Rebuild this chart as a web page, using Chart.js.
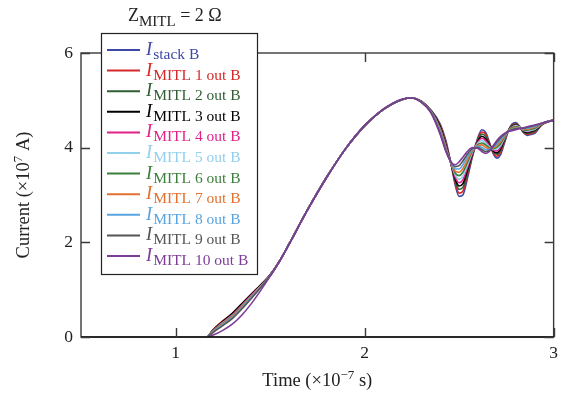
<!DOCTYPE html>
<html>
<head>
<meta charset="utf-8">
<script src="https://cdn.jsdelivr.net/npm/chart.js@4.4.1/dist/chart.umd.min.js"></script>
<style>
html,body{margin:0;padding:0;background:#fff;}
#wrap{position:relative;width:564px;height:393px;}
</style>
</head>
<body>
<div id="wrap"><canvas id="c" width="564" height="393"></canvas></div>
<script>
// Time (x10^-7 s)
const T = [1.17,1.20,1.25,1.30,1.35,1.40,1.45,1.50,1.55,1.60,1.70,1.80,1.90,2.00,2.10,2.20,2.25,2.30,2.35,2.40,
  2.43,2.46,2.48,2.50,2.52,2.54,2.57,2.60,2.62,2.64,2.66,2.68,2.70,2.72,2.74,2.76,2.78,2.80,2.82,2.84,
  2.86,2.88,2.90,2.92,2.94,2.97,3.00];

// Currents (x10^7 A)
const I_STACK = [0,0.15,0.33,0.47,0.68,0.89,1.09,1.31,1.60,1.96,2.70,3.38,3.98,4.46,4.81,5.02,5.05,4.98,4.80,4.50,
  4.15,3.60,3.20,2.97,3.00,3.28,3.80,4.22,4.38,4.33,4.12,3.88,3.78,3.86,4.10,4.35,4.50,4.53,4.45,4.32,
  4.26,4.28,4.30,4.40,4.50,4.56,4.58];
const I_M1 = [0,0.16,0.34,0.49,0.69,0.90,1.10,1.31,1.60,1.96,2.70,3.38,3.98,4.46,4.81,5.02,5.05,4.98,4.79,4.48,
  4.11,3.61,3.25,3.04,3.08,3.35,3.82,4.19,4.33,4.29,4.10,3.90,3.82,3.91,4.13,4.35,4.48,4.51,4.44,4.33,
  4.28,4.30,4.33,4.41,4.49,4.55,4.58];
const I_M2 = [0,0.14,0.32,0.48,0.68,0.89,1.09,1.31,1.60,1.96,2.70,3.38,3.98,4.46,4.81,5.02,5.05,4.98,4.79,4.46,
  4.08,3.62,3.29,3.12,3.16,3.40,3.84,4.17,4.29,4.24,4.08,3.92,3.86,3.95,4.16,4.36,4.47,4.50,4.44,4.34,
  4.30,4.32,4.35,4.42,4.49,4.55,4.58];
const I_M3 = [0,0.15,0.33,0.50,0.70,0.90,1.10,1.31,1.60,1.96,2.70,3.38,3.98,4.46,4.81,5.02,5.05,4.97,4.78,4.44,
  4.05,3.62,3.33,3.19,3.24,3.47,3.86,4.14,4.24,4.19,4.06,3.93,3.89,3.98,4.18,4.36,4.45,4.48,4.43,4.35,
  4.32,4.34,4.37,4.43,4.50,4.55,4.58];
const I_M4 = [0,0.14,0.31,0.47,0.67,0.88,1.08,1.30,1.60,1.96,2.70,3.38,3.98,4.46,4.81,5.02,5.05,4.97,4.78,4.41,
  4.03,3.63,3.37,3.26,3.32,3.53,3.88,4.12,4.20,4.15,4.04,3.95,3.93,4.02,4.20,4.36,4.44,4.47,4.43,4.36,
  4.34,4.36,4.39,4.44,4.50,4.55,4.58];
const I_M5 = [0,0.13,0.30,0.45,0.65,0.86,1.07,1.30,1.60,1.96,2.70,3.38,3.98,4.46,4.81,5.02,5.05,4.97,4.77,4.39,
  4.00,3.64,3.42,3.33,3.40,3.59,3.90,4.10,4.15,4.10,4.02,3.96,3.97,4.05,4.20,4.35,4.43,4.46,4.43,4.37,
  4.35,4.37,4.39,4.45,4.51,4.55,4.57];
const I_M6 = [0,0.13,0.29,0.44,0.64,0.85,1.06,1.30,1.60,1.96,2.70,3.38,3.98,4.46,4.81,5.02,5.05,4.97,4.77,4.37,
  3.99,3.65,3.46,3.41,3.48,3.65,3.92,4.07,4.10,4.06,4.00,3.98,4.01,4.09,4.22,4.35,4.42,4.44,4.42,4.38,
  4.37,4.39,4.41,4.46,4.51,4.55,4.57];
const I_M7 = [0,0.12,0.28,0.43,0.63,0.84,1.06,1.29,1.60,1.96,2.70,3.38,3.98,4.46,4.81,5.02,5.05,4.96,4.76,4.35,
  3.97,3.66,3.50,3.48,3.56,3.71,3.94,4.05,4.06,4.01,3.98,3.99,4.05,4.13,4.24,4.35,4.40,4.43,4.42,4.39,
  4.39,4.41,4.43,4.47,4.51,4.55,4.57];
const I_M8 = [0,0.11,0.26,0.41,0.61,0.83,1.05,1.29,1.60,1.96,2.70,3.38,3.98,4.46,4.81,5.02,5.05,4.96,4.76,4.33,
  3.95,3.67,3.55,3.55,3.64,3.78,3.96,4.03,4.01,3.96,3.96,4.01,4.08,4.17,4.26,4.35,4.39,4.41,4.41,4.40,
  4.41,4.43,4.45,4.48,4.52,4.55,4.57];
const I_M9 = [0,0.10,0.24,0.39,0.59,0.81,1.04,1.29,1.60,1.96,2.70,3.38,3.98,4.46,4.81,5.02,5.05,4.96,4.75,4.30,
  3.94,3.68,3.60,3.62,3.72,3.84,3.98,4.00,3.96,3.92,3.94,4.02,4.12,4.21,4.28,4.34,4.38,4.40,4.41,4.41,
  4.43,4.45,4.47,4.49,4.52,4.55,4.57];
const I_M10 = [0,0.04,0.14,0.27,0.46,0.70,0.98,1.28,1.60,1.95,2.69,3.37,3.98,4.47,4.82,5.03,5.05,4.96,4.74,4.28,
  3.92,3.68,3.64,3.70,3.80,3.90,4.00,3.98,3.92,3.88,3.92,4.04,4.15,4.24,4.30,4.34,4.36,4.38,4.40,4.42,
  4.44,4.46,4.48,4.50,4.52,4.55,4.57];

const SERIES = [I_STACK,I_M1,I_M2,I_M3,I_M4,I_M5,I_M6,I_M7,I_M8,I_M9,I_M10];
const SUBS = ['stack B','MITL 1 out B','MITL 2 out B','MITL 3 out B','MITL 4 out B','MITL 5 out B',
  'MITL 6 out B','MITL 7 out B','MITL 8 out B','MITL 9 out B','MITL 10 out B'];
const COLORS = ['#3d48a6','#d62828','#2f5f33','#000000','#e0218a','#92d0ec','#3a7f3a','#e2712f','#58a4e0','#555555','#7d3c98'];
const X_TICKS = [1,2,3];
const Y_TICKS = [0,2,4,6];

const SERIF = '"Liberation Serif","Times New Roman",serif';

const frameAndLegend = {
  id: 'frameAndLegend',
  afterDraw(chart) {
    const {ctx, chartArea: a, scales: {x, y}} = chart;
    ctx.save();
    // frame
    ctx.strokeStyle = '#3a3a3a';
    ctx.lineWidth = 1.4;
    ctx.strokeRect(a.left, a.top, a.right - a.left, a.bottom - a.top);
    ctx.strokeStyle = '#111';
    ctx.beginPath(); ctx.moveTo(a.left, a.bottom); ctx.lineTo(a.right, a.bottom); ctx.stroke();
    // inward ticks
    ctx.strokeStyle = '#3a3a3a';
    const L = 9;
    ctx.beginPath();
    X_TICKS.forEach(v => {
      const px = Math.round(x.getPixelForValue(v)) + 0.5;
      ctx.moveTo(px, a.bottom); ctx.lineTo(px, a.bottom - L);
      ctx.moveTo(px, a.top); ctx.lineTo(px, a.top + L);
    });
    Y_TICKS.forEach(v => {
      const py = Math.round(y.getPixelForValue(v)) + 0.5;
      ctx.moveTo(a.left, py); ctx.lineTo(a.left + L, py);
      ctx.moveTo(a.right, py); ctx.lineTo(a.right - L, py);
    });
    ctx.stroke();

    // axis titles
    ctx.fillStyle = '#222';
    ctx.textBaseline = 'alphabetic';
    // x title
    const xParts = [['Time (×10', 18.5, 0], ['−7', 13, -7], [' s)', 18.5, 0]];
    let w = 0;
    xParts.forEach(p => { ctx.font = p[1] + 'px ' + SERIF; w += ctx.measureText(p[0]).width; });
    let cx = (a.left + a.right) / 2 - w / 2;
    xParts.forEach(p => { ctx.font = p[1] + 'px ' + SERIF; ctx.fillText(p[0], cx, 386 + p[2]); cx += ctx.measureText(p[0]).width; });
    // y title
    ctx.save();
    ctx.translate(29, (a.top + a.bottom) / 2);
    ctx.rotate(-Math.PI / 2);
    const yParts = [['Current (×10', 18.5, 0], ['7', 13, -7], [' A)', 18.5, 0]];
    w = 0;
    yParts.forEach(p => { ctx.font = p[1] + 'px ' + SERIF; w += ctx.measureText(p[0]).width; });
    cx = -w / 2;
    yParts.forEach(p => { ctx.font = p[1] + 'px ' + SERIF; ctx.fillText(p[0], cx, 0 + p[2]); cx += ctx.measureText(p[0]).width; });
    ctx.restore();

    // legend title
    ctx.fillStyle = '#222';
    ctx.font = '18px ' + SERIF;
    ctx.fillText('Z', 128, 21);
    let tx = 128 + ctx.measureText('Z').width;
    ctx.font = '15px ' + SERIF;
    ctx.fillText('MITL', tx, 26);
    tx += ctx.measureText('MITL').width;
    ctx.font = '18px ' + SERIF;
    ctx.fillText(' = 2 Ω', tx, 21);

    // legend box
    const bx = 101.5, by = 33.5, bw = 156, bh = 241;
    ctx.fillStyle = '#fff';
    ctx.fillRect(bx, by, bw, bh);
    ctx.strokeStyle = '#222';
    ctx.lineWidth = 1.2;
    ctx.strokeRect(bx, by, bw, bh);
    SUBS.forEach((s, i) => {
      const cy = 50 + i * 20.6;
      ctx.strokeStyle = COLORS[i];
      ctx.lineWidth = 2;
      ctx.beginPath(); ctx.moveTo(107, cy); ctx.lineTo(140, cy); ctx.stroke();
      ctx.fillStyle = COLORS[i];
      ctx.font = 'italic 18.5px ' + SERIF;
      ctx.fillText('I', 146, cy + 5);
      const iw = ctx.measureText('I').width;
      ctx.font = '15.5px ' + SERIF;
      ctx.fillText(s, 146 + iw + 1, cy + 9);
    });
    ctx.restore();
  }
};

const datasets = SERIES.map((arr, i) => ({
  label: SUBS[i],
  data: T.map((t, j) => ({x: t, y: arr[j]})),
  borderColor: COLORS[i],
  borderWidth: 1.6,
  pointRadius: 0,
  fill: false,
  cubicInterpolationMode: 'monotone',
  order: SERIES.length - i
}));

new Chart(document.getElementById('c'), {
  type: 'line',
  data: {datasets},
  options: {
    responsive: false,
    animation: false,
    layout: {padding: {top: 53, right: 10, left: 0, bottom: 0}},
    plugins: {legend: {display: false}, tooltip: {enabled: false}, title: {display: false}},
    scales: {
      x: {
        type: 'linear', min: 0.5, max: 3,
        grid: {display: false, drawTicks: false},
        border: {display: false},
        afterBuildTicks: s => { s.ticks = X_TICKS.map(v => ({value: v})); },
        afterFit: s => { s.height = 56; },
        ticks: {color: '#222', font: {family: SERIF, size: 17.5}, padding: 6, maxRotation: 0}
      },
      y: {
        type: 'linear', min: 0, max: 6,
        grid: {display: false, drawTicks: false},
        border: {display: false},
        afterBuildTicks: s => { s.ticks = Y_TICKS.map(v => ({value: v})); },
        afterFit: s => { s.width = 81; },
        ticks: {color: '#222', font: {family: SERIF, size: 17.5}, padding: 8}
      }
    }
  },
  plugins: [frameAndLegend]
});
</script>
</body>
</html>
